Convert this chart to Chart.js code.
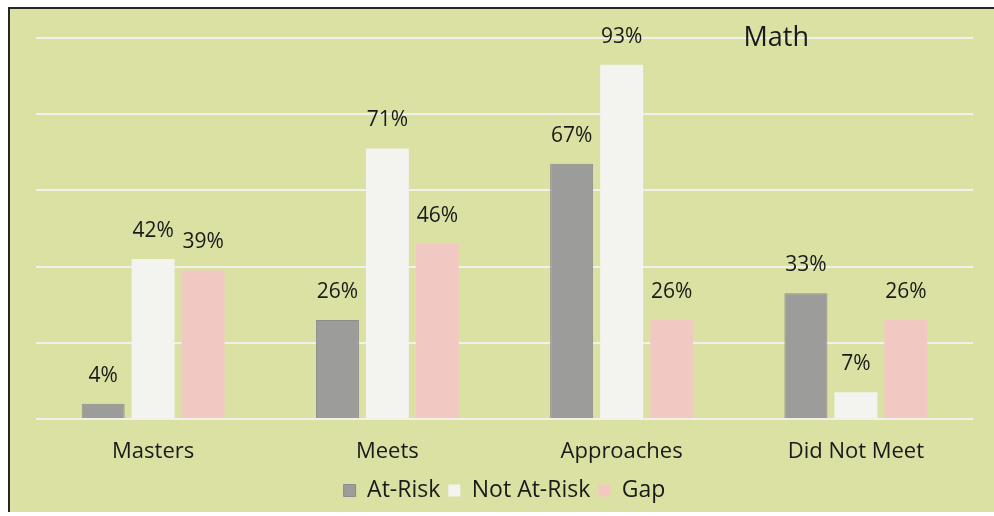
<!DOCTYPE html>
<html lang="en">
<head>
  <meta charset="utf-8" />
  <title>Math</title>
  <style>
    html, body {
      margin: 0;
      padding: 0;
      background: #ffffff;
    }
    .frame {
      position: absolute;
      left: 8px;
      top: 7px;
      width: 986px;
      height: 505px;
      background: #dbe1a3;
      border-left: 2px solid #262626;
      border-top: 2px solid #262626;
      box-sizing: border-box;
    }
    .frame canvas {
      width: 100% !important;
      height: 100% !important;
    }
  </style>
</head>
<body>
  <div class="frame"><canvas id="chart"></canvas></div>

  <script src="https://cdn.jsdelivr.net/npm/chart.js"></script>
  <script>
    const categories = ['Masters', 'Meets', 'Approaches', 'Did Not Meet'];
    const atRisk = [4, 26, 67, 33];
    const notAtRisk = [42, 71, 93, 7];
    const gap = [39, 46, 26, 26];
    const seriesNames = ['At-Risk', 'Not At-Risk', 'Gap'];
    const yTicks = [0, 20, 40, 60, 80, 100];

    const font = "'Open Sans', 'Noto Sans', sans-serif";
    const ink = '#1a1a1a';

    // percentage labels above each bar, plus the title sitting on the top gridline
    const barLabels = {
      id: 'barLabels',
      afterDatasetsDraw(chart) {
        const ctx = chart.ctx;
        ctx.save();
        ctx.fillStyle = ink;
        ctx.font = '21px ' + font;
        ctx.textAlign = 'center';
        ctx.textBaseline = 'middle';
        chart.data.datasets.forEach((ds, i) => {
          chart.getDatasetMeta(i).data.forEach((bar, j) => {
            ctx.fillText(ds.data[j] + '%', bar.x, bar.y - 28);
          });
        });
        const area = chart.chartArea;
        ctx.font = '27px ' + font;
        ctx.fillText('Math', area.left + (area.right - area.left) * 0.79, area.top);
        ctx.restore();
      }
    };

    new Chart(document.getElementById('chart'), {
      type: 'bar',
      data: {
        labels: categories,
        datasets: [
          { label: seriesNames[0], data: atRisk, backgroundColor: '#9c9c9b', borderColor: '#8c8c8c', borderWidth: 1 },
          { label: seriesNames[1], data: notAtRisk, backgroundColor: '#f3f3f0', borderColor: '#f3f3f0', borderWidth: 0 },
          { label: seriesNames[2], data: gap, backgroundColor: '#f2c9c2', borderColor: '#f2c9c2', borderWidth: 0 }
        ]
      },
      plugins: [barLabels],
      options: {
        responsive: true,
        maintainAspectRatio: false,
        animation: false,
        layout: { padding: { left: 26, right: 21, top: 29, bottom: 0 } },
        datasets: {
          bar: { categoryPercentage: 0.64, barPercentage: 0.86 }
        },
        plugins: {
          title: { display: false },
          tooltip: { enabled: false },
          legend: {
            position: 'bottom',
            labels: {
              color: ink,
              font: { family: font, size: 23 },
              boxWidth: 12,
              boxHeight: 12,
              padding: 8
            }
          }
        },
        scales: {
          x: {
            grid: { display: false },
            border: { display: false },
            ticks: {
              color: ink,
              font: { family: font, size: 22 },
              padding: 12
            },
            afterFit(scale) {
              scale.height = 52;
            }
          },
          y: {
            min: 0,
            max: 100,
            afterBuildTicks(scale) {
              scale.ticks = yTicks.map(v => ({ value: v }));
            },
            afterFit(scale) {
              scale.width = 0;
            },
            grid: { color: '#f1f1ea', lineWidth: 2, drawTicks: false },
            border: { display: false },
            ticks: { display: false }
          }
        }
      }
    });
  </script>
</body>
</html>
